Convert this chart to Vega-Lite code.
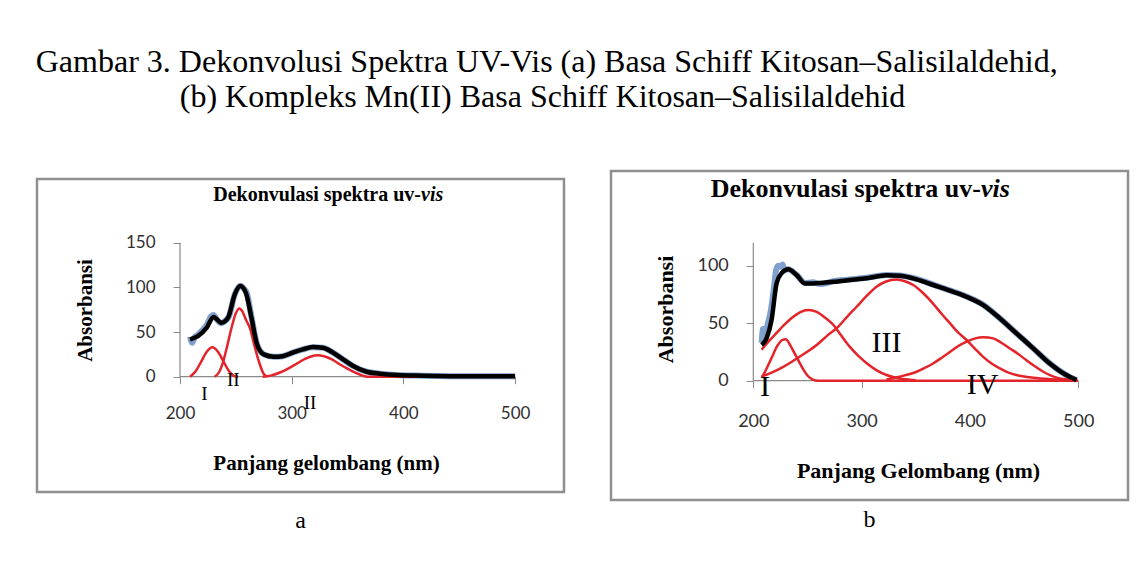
{
  "$schema": "https://vega.github.io/schema/vega-lite/v6.json",
  "background": "white",
  "padding": {"left": 35, "top": 45, "right": 0, "bottom": 0},
  "title": {
    "text": ["Gambar 3. Dekonvolusi Spektra UV-Vis (a) Basa Schiff Kitosan–Salisilaldehid,", "\u200b\u00a0\u00a0\u00a0\u00a0\u00a0\u00a0\u00a0\u00a0\u00a0\u00a0\u00a0\u00a0\u00a0\u00a0\u00a0\u00a0\u00a0\u00a0(b) Kompleks Mn(II) Basa Schiff Kitosan–Salisilaldehid"],
    "anchor": "start", "font": "Liberation Serif", "fontSize": 32, "fontWeight": "normal", "lineHeight": 35, "color": "black", "offset": 56
  },
  "spacing": 47,
  "bounds": "flush",
  "center": true,
  "config": {
    "axis": {"grid": false, "domain": false, "tickColor": "#8a8a8a", "tickSize": 7, "labelFont": "Lato", "labelColor": "#303030", "titleFont": "Liberation Serif", "titleFontWeight": "bold", "titleColor": "black"}
  },
  "datasets": {
    "A": [
      {"s":"blue","x":209,"y":45},{"s":"blue","x":211,"y":38},{"s":"blue","x":213,"y":44},{"s":"blue","x":216,"y":47},{"s":"blue","x":220,"y":52},{"s":"blue","x":224,"y":58},{"s":"blue","x":228,"y":68},{"s":"blue","x":230,"y":69},{"s":"blue","x":233,"y":64},{"s":"blue","x":237,"y":60},{"s":"blue","x":240,"y":62},{"s":"blue","x":244,"y":68},{"s":"blue","x":249,"y":92},{"s":"blue","x":254,"y":102},{"s":"blue","x":257,"y":99},{"s":"blue","x":260,"y":93},{"s":"blue","x":264,"y":67},{"s":"blue","x":269,"y":36},{"s":"blue","x":275,"y":25},{"s":"blue","x":284,"y":22.4},{"s":"blue","x":292,"y":23},{"s":"blue","x":301,"y":27},{"s":"blue","x":310,"y":30.6},{"s":"blue","x":319,"y":33},{"s":"blue","x":328,"y":32.5},{"s":"blue","x":337,"y":27},{"s":"blue","x":346,"y":19.4},{"s":"blue","x":355,"y":12},{"s":"blue","x":367,"y":5.6},{"s":"blue","x":379,"y":3.4},{"s":"blue","x":394,"y":1.9},{"s":"blue","x":418,"y":1.1},{"s":"blue","x":460,"y":0.4},{"s":"blue","x":500,"y":0.4},
      {"s":"fit","x":209,"y":41.8},{"s":"fit","x":216,"y":45.5},{"s":"fit","x":224,"y":55},{"s":"fit","x":230,"y":67},{"s":"fit","x":237,"y":60.5},{"s":"fit","x":243,"y":66},{"s":"fit","x":249,"y":92},{"s":"fit","x":254,"y":101.5},{"s":"fit","x":259,"y":94},{"s":"fit","x":264,"y":66},{"s":"fit","x":269,"y":36},{"s":"fit","x":275,"y":25},{"s":"fit","x":284,"y":22.4},{"s":"fit","x":292,"y":23},{"s":"fit","x":301,"y":27},{"s":"fit","x":310,"y":30.6},{"s":"fit","x":319,"y":33.2},{"s":"fit","x":328,"y":32.5},{"s":"fit","x":337,"y":27},{"s":"fit","x":346,"y":19.4},{"s":"fit","x":355,"y":12},{"s":"fit","x":367,"y":5.6},{"s":"fit","x":379,"y":3.4},{"s":"fit","x":394,"y":1.9},{"s":"fit","x":418,"y":1.1},{"s":"fit","x":460,"y":0.4},{"s":"fit","x":500,"y":0.4},
      {"s":"r1","x":209,"y":0},{"s":"r1","x":214,"y":6},{"s":"r1","x":219,"y":17},{"s":"r1","x":224,"y":28},{"s":"r1","x":229,"y":33},{"s":"r1","x":234,"y":28},{"s":"r1","x":239,"y":17},{"s":"r1","x":244,"y":6},{"s":"r1","x":248,"y":1},{"s":"r1","x":252,"y":0},
      {"s":"r2","x":231,"y":0},{"s":"r2","x":235,"y":5},{"s":"r2","x":238,"y":14},{"s":"r2","x":242,"y":33},{"s":"r2","x":246,"y":54},{"s":"r2","x":250,"y":71},{"s":"r2","x":253,"y":76.5},{"s":"r2","x":256,"y":73},{"s":"r2","x":259,"y":64},{"s":"r2","x":263,"y":53},{"s":"r2","x":266,"y":38},{"s":"r2","x":269,"y":24},{"s":"r2","x":272,"y":12},{"s":"r2","x":275,"y":3},{"s":"r2","x":278,"y":0},
      {"s":"r3","x":274,"y":0},{"s":"r3","x":282,"y":1.5},{"s":"r3","x":290,"y":5},{"s":"r3","x":298,"y":10},{"s":"r3","x":305,"y":15},{"s":"r3","x":312,"y":20},{"s":"r3","x":318,"y":23},{"s":"r3","x":323,"y":24},{"s":"r3","x":329,"y":23},{"s":"r3","x":336,"y":19.5},{"s":"r3","x":343,"y":14},{"s":"r3","x":350,"y":9},{"s":"r3","x":357,"y":4.5},{"s":"r3","x":363,"y":1.5},{"s":"r3","x":368,"y":0},{"s":"r3","x":420,"y":0},{"s":"r3","x":500,"y":0}
    ],
    "B": [
      {"s":"blue","x":207.7,"y":33},{"s":"blue","x":209,"y":45},{"s":"blue","x":211,"y":40},{"s":"blue","x":213,"y":48},{"s":"blue","x":216,"y":60},{"s":"blue","x":219,"y":80},{"s":"blue","x":221,"y":96},{"s":"blue","x":223,"y":100},{"s":"blue","x":225,"y":99},{"s":"blue","x":227,"y":101},{"s":"blue","x":229,"y":96},{"s":"blue","x":232,"y":97},{"s":"blue","x":240,"y":92},{"s":"blue","x":247.7,"y":85},{"s":"blue","x":255,"y":85.5},{"s":"blue","x":262,"y":84},{"s":"blue","x":273.8,"y":86.5},{"s":"blue","x":289.2,"y":88},{"s":"blue","x":304.6,"y":89.5},{"s":"blue","x":323,"y":92},{"s":"blue","x":335.4,"y":91.5},{"s":"blue","x":350.8,"y":88.5},{"s":"blue","x":366.2,"y":83.5},{"s":"blue","x":381.5,"y":78.5},{"s":"blue","x":396.9,"y":73.2},{"s":"blue","x":412.3,"y":66},{"s":"blue","x":427.7,"y":54.2},{"s":"blue","x":443,"y":41.2},{"s":"blue","x":458.5,"y":28.1},{"s":"blue","x":473.8,"y":15},{"s":"blue","x":489,"y":4.9},{"s":"blue","x":498.5,"y":0.6},
      {"s":"fit","x":207.7,"y":31},{"s":"fit","x":212.3,"y":37},{"s":"fit","x":216.9,"y":53},{"s":"fit","x":221.5,"y":84.6},{"s":"fit","x":226,"y":93.3},{"s":"fit","x":232.3,"y":96.8},{"s":"fit","x":240,"y":91.9},{"s":"fit","x":247.7,"y":84.6},{"s":"fit","x":255.4,"y":84.6},{"s":"fit","x":273.8,"y":86},{"s":"fit","x":289.2,"y":87.5},{"s":"fit","x":304.6,"y":89},{"s":"fit","x":323,"y":91.6},{"s":"fit","x":335.4,"y":91.3},{"s":"fit","x":350.8,"y":88.1},{"s":"fit","x":366.2,"y":83.2},{"s":"fit","x":381.5,"y":78.3},{"s":"fit","x":396.9,"y":73},{"s":"fit","x":412.3,"y":65.8},{"s":"fit","x":427.7,"y":54.2},{"s":"fit","x":443,"y":41.2},{"s":"fit","x":458.5,"y":28.1},{"s":"fit","x":473.8,"y":15},{"s":"fit","x":489,"y":4.9},{"s":"fit","x":498.5,"y":0.6},
      {"s":"r1","x":208,"y":3},{"s":"r1","x":212,"y":10},{"s":"r1","x":217,"y":20},{"s":"r1","x":222,"y":30},{"s":"r1","x":227,"y":35.5},{"s":"r1","x":230,"y":36},{"s":"r1","x":234,"y":31},{"s":"r1","x":238,"y":24},{"s":"r1","x":242,"y":17},{"s":"r1","x":246,"y":10},{"s":"r1","x":250,"y":4.5},{"s":"r1","x":255,"y":1},{"s":"r1","x":260,"y":0},{"s":"r1","x":380,"y":0},{"s":"r1","x":500,"y":0},
      {"s":"r2","x":207.7,"y":27},{"s":"r2","x":215,"y":35},{"s":"r2","x":222,"y":42},{"s":"r2","x":228,"y":48},{"s":"r2","x":236,"y":55},{"s":"r2","x":243,"y":59.5},{"s":"r2","x":251,"y":61.4},{"s":"r2","x":258,"y":60},{"s":"r2","x":266,"y":55},{"s":"r2","x":274,"y":48.4},{"s":"r2","x":281,"y":39.5},{"s":"r2","x":289,"y":29.6},{"s":"r2","x":297,"y":21.5},{"s":"r2","x":305,"y":15},{"s":"r2","x":314,"y":9},{"s":"r2","x":323,"y":5},{"s":"r2","x":330,"y":3},{"s":"r2","x":338,"y":1.5},{"s":"r2","x":350,"y":0.5},
      {"s":"r3","x":207.7,"y":3.5},{"s":"r3","x":217,"y":7},{"s":"r3","x":227.7,"y":12},{"s":"r3","x":243,"y":21},{"s":"r3","x":258.5,"y":31},{"s":"r3","x":268,"y":39},{"s":"r3","x":278.5,"y":47},{"s":"r3","x":287,"y":56},{"s":"r3","x":295.4,"y":64.3},{"s":"r3","x":304,"y":73},{"s":"r3","x":313.8,"y":81.7},{"s":"r3","x":322,"y":86},{"s":"r3","x":332.3,"y":88},{"s":"r3","x":340,"y":86.5},{"s":"r3","x":347.7,"y":83.2},{"s":"r3","x":357,"y":76},{"s":"r3","x":366,"y":67},{"s":"r3","x":374,"y":58},{"s":"r3","x":381.5,"y":50},{"s":"r3","x":389,"y":42},{"s":"r3","x":397,"y":35.4},{"s":"r3","x":405,"y":27.5},{"s":"r3","x":412,"y":20.9},{"s":"r3","x":420,"y":15},{"s":"r3","x":427.7,"y":10.7},{"s":"r3","x":435,"y":7.3},{"s":"r3","x":443,"y":5},{"s":"r3","x":458.5,"y":2.6},{"s":"r3","x":475,"y":1.3},{"s":"r3","x":498.5,"y":0.5},
      {"s":"r4","x":323,"y":1},{"s":"r4","x":335,"y":3.5},{"s":"r4","x":350.8,"y":7.8},{"s":"r4","x":358,"y":11},{"s":"r4","x":366,"y":15},{"s":"r4","x":374,"y":20},{"s":"r4","x":381.5,"y":25},{"s":"r4","x":389,"y":30},{"s":"r4","x":397,"y":34},{"s":"r4","x":405,"y":36.8},{"s":"r4","x":412.3,"y":37.7},{"s":"r4","x":421.5,"y":36.8},{"s":"r4","x":429,"y":33},{"s":"r4","x":437,"y":28},{"s":"r4","x":445,"y":23},{"s":"r4","x":452,"y":18},{"s":"r4","x":460,"y":12.5},{"s":"r4","x":467.7,"y":7.8},{"s":"r4","x":475,"y":4.5},{"s":"r4","x":483,"y":2},{"s":"r4","x":490,"y":1},{"s":"r4","x":498.5,"y":0.5}
    ],
    "labA": [{"t":"I","x":221.8,"y":-19},{"t":"II","x":247.8,"y":-3.7},{"t":"II","x":316.4,"y":-29}],
    "labB": [{"t":"I","x":210.8,"y":-5.2},{"t":"III","x":323,"y":32.5},{"t":"IV","x":411.7,"y":-3.8}],
    "one": [{"a":"Dekonvulasi spektra uv-","b":"vis"}]
  },
  "hconcat": [
    {
      "width": 527, "height": 313,
      "view": {"stroke": "#8f8f8f", "strokeWidth": 2.5},
      "title": {"text": "a", "orient": "bottom", "font": "Liberation Serif", "fontSize": 24, "fontWeight": "normal", "offset": 17, "anchor": "middle", "baseline": "top", "color": "black"},
      "layer": [
        {"data": {"name": "A"}, "transform": [{"filter": "datum.s == 'blue'"}],
         "mark": {"type": "line", "color": "#6a8fc4", "strokeWidth": 6, "interpolate": "monotone", "opacity": 0.85},
         "encoding": {
           "x": {"field": "x", "type": "quantitative", "scale": {"domain": [72, 543.8], "nice": false, "zero": false},
                 "axis": {"values": [200, 300, 400, 500], "offset": -115.3, "labelFontSize": 17, "labelPadding": 22, "title": "Panjang gelombang (nm)", "titleFontSize": 21, "titleX": 289, "titleY": 87, "titleBaseline": "middle"}},
           "y": {"field": "y", "type": "quantitative", "scale": {"domain": [-129.1, 221.4], "nice": false, "zero": false},
                 "axis": {"values": [0, 50, 100, 150], "offset": -143, "labelFontSize": 17, "labelPadding": 18, "title": "Absorbansi", "titleFontSize": 21, "titleX": -95, "titleY": 131, "titleBaseline": "middle", "titleAngle": 270}}
         }},
        {"data": {"name": "one"}, "mark": {"type": "rule", "color": "#8a8a8a", "strokeWidth": 1.2}, "encoding": {"x": {"datum": 200}, "x2": {"datum": 500}, "y": {"datum": 0}}},
        {"data": {"name": "one"}, "mark": {"type": "rule", "color": "#8a8a8a", "strokeWidth": 1.2}, "encoding": {"x": {"datum": 200}, "y": {"datum": 0}, "y2": {"datum": 150}}},
        {"data": {"name": "A"}, "transform": [{"filter": "datum.s != 'blue' && datum.s != 'fit'"}],
         "mark": {"type": "line", "color": "#e3242b", "strokeWidth": 2.5, "interpolate": "monotone"},
         "encoding": {"x": {"field": "x", "type": "quantitative"}, "y": {"field": "y", "type": "quantitative"}, "detail": {"field": "s"}}},
        {"data": {"name": "A"}, "transform": [{"filter": "datum.s == 'fit'"}],
         "mark": {"type": "line", "color": "black", "strokeWidth": 4.5, "interpolate": "monotone"},
         "encoding": {"x": {"field": "x", "type": "quantitative"}, "y": {"field": "y", "type": "quantitative"}}},
        {"data": {"name": "labA"},
         "mark": {"type": "text", "font": "Liberation Serif", "fontSize": 19, "color": "black", "baseline": "middle", "align": "center"},
         "encoding": {"x": {"field": "x", "type": "quantitative"}, "y": {"field": "y", "type": "quantitative"}, "text": {"field": "t"}}},
        {"data": {"name": "one"},
         "mark": {"type": "text", "font": "Liberation Serif", "fontSize": 20, "fontWeight": "bold", "color": "black", "baseline": "middle", "align": "right"},
         "encoding": {"x": {"datum": 415.8}, "y": {"datum": 203.5}, "text": {"field": "a"}}},
        {"data": {"name": "one"},
         "mark": {"type": "text", "font": "Liberation Serif", "fontSize": 20, "fontWeight": "bold", "fontStyle": "italic", "color": "black", "baseline": "middle", "align": "left"},
         "encoding": {"x": {"datum": 415.8}, "y": {"datum": 203.5}, "text": {"field": "b"}}}
      ]
    },
    {
      "width": 517, "height": 329,
      "view": {"stroke": "#8f8f8f", "strokeWidth": 2.5},
      "title": {"text": "b", "orient": "bottom", "font": "Liberation Serif", "fontSize": 24, "fontWeight": "normal", "offset": 8, "anchor": "middle", "baseline": "top", "color": "black"},
      "layer": [
        {"data": {"name": "B"}, "transform": [{"filter": "datum.s == 'blue'"}],
         "mark": {"type": "line", "color": "#6a8fc4", "strokeWidth": 6, "interpolate": "monotone", "opacity": 0.85},
         "encoding": {
           "x": {"field": "x", "type": "quantitative", "scale": {"domain": [68.6, 546], "nice": false, "zero": false},
                 "axis": {"values": [200, 300, 400, 500], "offset": -119.3, "labelFontSize": 18, "labelPadding": 25, "title": "Panjang Gelombang (nm)", "titleFontSize": 22, "titleX": 307, "titleY": 90, "titleBaseline": "middle"}},
           "y": {"field": "y", "type": "quantitative", "scale": {"domain": [-103.7, 182.3], "nice": false, "zero": false},
                 "axis": {"values": [0, 50, 100], "offset": -142.3, "labelFontSize": 18, "labelPadding": 18, "title": "Absorbansi", "titleFontSize": 22, "titleX": -88, "titleY": 138, "titleBaseline": "middle", "titleAngle": 270}}
         }},
        {"data": {"name": "one"}, "mark": {"type": "rule", "color": "#8a8a8a", "strokeWidth": 1.2}, "encoding": {"x": {"datum": 200}, "x2": {"datum": 500}, "y": {"datum": 0}}},
        {"data": {"name": "one"}, "mark": {"type": "rule", "color": "#8a8a8a", "strokeWidth": 1.2}, "encoding": {"x": {"datum": 200}, "y": {"datum": 0}, "y2": {"datum": 120}}},
        {"data": {"name": "B"}, "transform": [{"filter": "datum.s != 'blue' && datum.s != 'fit'"}],
         "mark": {"type": "line", "color": "#e3242b", "strokeWidth": 2.5, "interpolate": "monotone"},
         "encoding": {"x": {"field": "x", "type": "quantitative"}, "y": {"field": "y", "type": "quantitative"}, "detail": {"field": "s"}}},
        {"data": {"name": "B"}, "transform": [{"filter": "datum.s == 'fit'"}],
         "mark": {"type": "line", "color": "black", "strokeWidth": 4.5, "interpolate": "monotone"},
         "encoding": {"x": {"field": "x", "type": "quantitative"}, "y": {"field": "y", "type": "quantitative"}}},
        {"data": {"name": "labB"},
         "mark": {"type": "text", "font": "Liberation Serif", "fontSize": 30, "color": "black", "baseline": "middle", "align": "center"},
         "encoding": {"x": {"field": "x", "type": "quantitative"}, "y": {"field": "y", "type": "quantitative"}, "text": {"field": "t"}}},
        {"data": {"name": "one"},
         "mark": {"type": "text", "font": "Liberation Serif", "fontSize": 26, "fontWeight": "bold", "color": "black", "baseline": "middle", "align": "right"},
         "encoding": {"x": {"datum": 410.2}, "y": {"datum": 166.7}, "text": {"field": "a"}}},
        {"data": {"name": "one"},
         "mark": {"type": "text", "font": "Liberation Serif", "fontSize": 26, "fontWeight": "bold", "fontStyle": "italic", "color": "black", "baseline": "middle", "align": "left"},
         "encoding": {"x": {"datum": 410.2}, "y": {"datum": 166.7}, "text": {"field": "b"}}}
      ]
    }
  ]
}
